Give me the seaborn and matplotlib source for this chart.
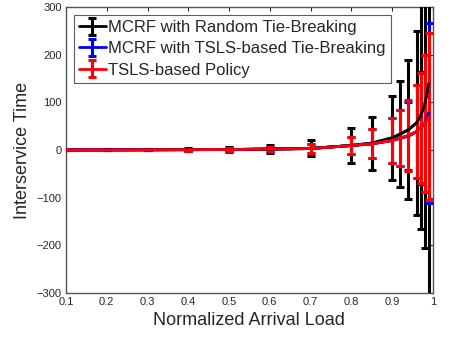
import numpy as np
import pandas as pd
import matplotlib
matplotlib.use("Agg")
import matplotlib.pyplot as plt
import seaborn as sns

load = [0.1, 0.2, 0.3, 0.4, 0.5, 0.6, 0.7, 0.8, 0.85, 0.9, 0.92, 0.94, 0.96, 0.97, 0.98, 0.99]

random_mean = [0.2, 0.3, 0.5, 0.8, 1.0, 2.0, 3.5, 9.5, 14.5, 25.5, 33.5, 42.5, 57, 72, 95, 140]
random_err = [0.4, 0.8, 1.5, 2.5, 4.5, 9.0, 17, 36.5, 55.5, 89, 112, 146.5, 194, 239, 302, 480]

tsls_tb_mean = [0.2, 0.3, 0.5, 0.7, 1.0, 2.0, 3.0, 9.5, 13, 20, 25, 29, 38.7, 46.5, 56, 78]
tsls_tb_err = [0.3, 0.6, 1.0, 1.8, 3.0, 5.0, 10, 18.5, 30.5, 48, 59, 72, 98, 118, 144, 189]

tsls_mean = [0.2, 0.3, 0.5, 0.7, 1.0, 2.0, 3.0, 9.5, 13, 20, 25, 30.7, 38.7, 46, 56, 70]
tsls_err = [0.3, 0.6, 1.0, 1.8, 3.0, 5.0, 10, 18.5, 30.5, 48, 59, 74, 98, 116, 144, 175]

labels = ["MCRF with Random Tie-Breaking",
          "MCRF with TSLS-based Tie-Breaking",
          "TSLS-based Policy"]
colors = ["#000000", "#0000ff", "#ff0000"]

xticks = [0.1, 0.2, 0.3, 0.4, 0.5, 0.6, 0.7, 0.8, 0.9, 1]
xticklabels = ["0.1", "0.2", "0.3", "0.4", "0.5", "0.6", "0.7", "0.8", "0.9", "1"]
yticks = [-300, -200, -100, 0, 100, 200, 300]

sns.set_style("white")
plt.rcParams["font.family"] = ["Liberation Sans", "DejaVu Sans"]

df = pd.concat([
    pd.DataFrame({"load": load, "mean": m, "err": e, "series": lab})
    for m, e, lab in [(random_mean, random_err, labels[0]),
                      (tsls_tb_mean, tsls_tb_err, labels[1]),
                      (tsls_mean, tsls_err, labels[2])]
], ignore_index=True)

fig = plt.figure(figsize=(4.49, 3.39), dpi=100)
ax = fig.add_axes([0.147, 0.1366, 0.817, 0.8418])

sns.lineplot(data=df, x="load", y="mean", hue="series", palette=colors,
             hue_order=labels, linewidth=2, ax=ax, legend=False, zorder=2)

handles = []
for lab, col in zip(labels, colors):
    sub = df[df["series"] == lab]
    h = ax.errorbar(sub["load"], sub["mean"], yerr=sub["err"], fmt="-",
                    color=col, linewidth=2, ecolor=col, elinewidth=2.2,
                    capsize=3, capthick=2.2, label=lab, zorder=3)
    handles.append(h)

ax.set_xlim(0.1, 1)
ax.set_ylim(-300, 300)
ax.set_xticks(xticks)
ax.set_xticklabels(xticklabels)
ax.set_yticks(yticks)
ax.tick_params(direction="in", length=3, width=0.8, labelsize=8,
               colors="#262626", top=True, right=True, pad=3)
for s in ax.spines.values():
    s.set_color("#555555")
    s.set_linewidth(1.0)
ax.set_xlabel("Normalized Arrival Load", fontsize=13, color="#262626")
ax.set_ylabel("Interservice Time", fontsize=13, color="#262626")

leg = ax.legend(handles=handles, labels=labels, loc="upper left",
                fontsize=12, frameon=True, fancybox=False, borderpad=0.32,
                labelspacing=0.36, handlelength=1.6, handletextpad=0.15,
                borderaxespad=0.45, handleheight=0.8)
leg.get_frame().set_edgecolor("#333333")
leg.get_frame().set_linewidth(0.8)

fig.savefig("out.png", dpi=100)
